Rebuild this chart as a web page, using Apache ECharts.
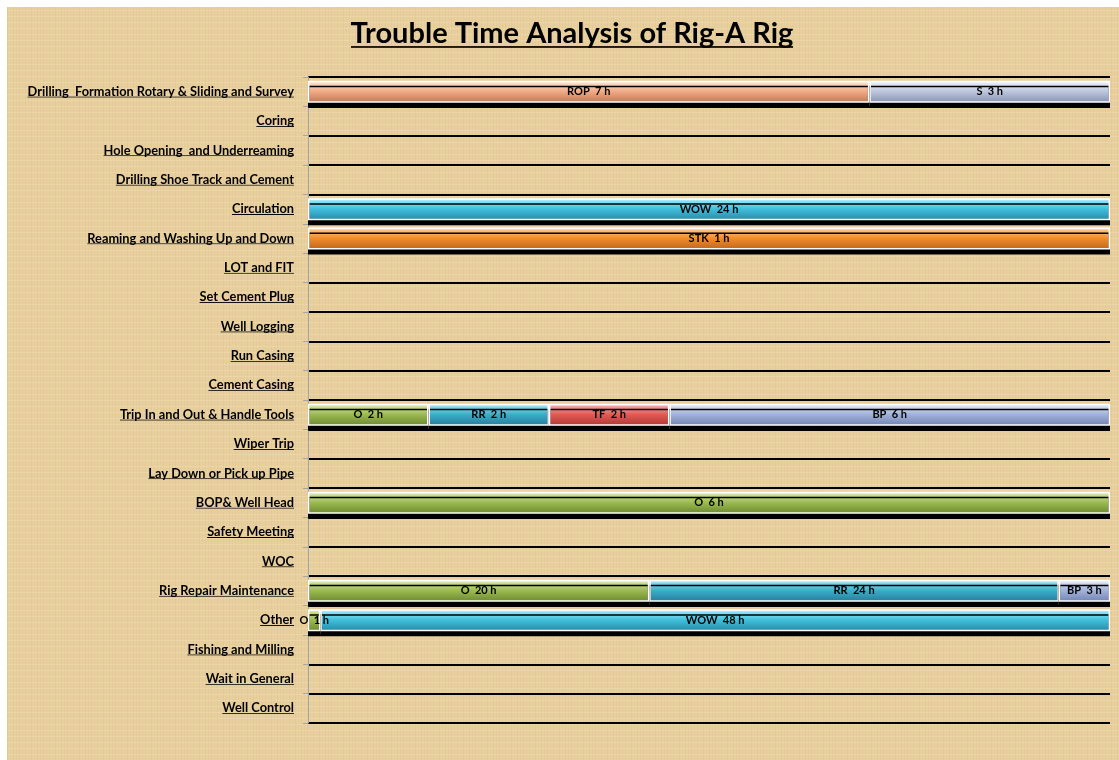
<!DOCTYPE html>
<html lang="en">

<head>
    <meta charset="UTF-8">
    <title>Trouble Time Analysis</title>
    <script src="https://cdn.jsdelivr.net/npm/echarts@6/dist/echarts.min.js"></script>
    <style>
        html, body { margin: 0; padding: 0; background: #fff; }
    </style>
</head>

<body>
    <div id="main" style="width: 1119px;height:760px;"></div>

    <script type="text/javascript">
        // rows, top to bottom
        var categories = [
            'Drilling  Formation Rotary & Sliding and Survey', 'Coring', 'Hole Opening  and Underreaming',
            'Drilling Shoe Track and Cement', 'Circulation', 'Reaming and Washing Up and Down', 'LOT and FIT',
            'Set Cement Plug', 'Well Logging', 'Run Casing', 'Cement Casing', 'Trip In and Out & Handle Tools',
            'Wiper Trip', 'Lay Down or Pick up Pipe', 'BOP& Well Head', 'Safety Meeting', 'WOC',
            'Rig Repair Maintenance', 'Other', 'Fishing and Milling', 'Wait in General', 'Well Control'
        ];

        // hours per series and row (null = nothing)
        var oHours   = [null, null, null, null, null, null, null, null, null, null, null, 1.75, null, null, 6, null, null, 20, 0.75, null, null, null];
        var rrHours  = [null, null, null, null, null, null, null, null, null, null, null, 1.75, null, null, null, null, null, 24, null, null, null, null];
        var tfHours  = [null, null, null, null, null, null, null, null, null, null, null, 1.75, null, null, null, null, null, null, null, null, null, null];
        var bpHours  = [null, null, null, null, null, null, null, null, null, null, null, 6.4, null, null, null, null, null, 3, null, null, null, null];
        var ropHours = [7, null, null, null, null, null, null, null, null, null, null, null, null, null, null, null, null, null, null, null, null, null];
        var sHours   = [3, null, null, null, null, null, null, null, null, null, null, null, null, null, null, null, null, null, null, null, null, null];
        var wowHours = [null, null, null, null, 24, null, null, null, null, null, null, null, null, null, null, null, null, null, 48, null, null, null];
        var stkHours = [null, null, null, null, null, 1, null, null, null, null, null, null, null, null, null, null, null, null, null, null, null, null];

        var seriesNames = ['O', 'RR', 'TF', 'BP', 'ROP', 'S', 'WOW', 'STK'];
        var seriesHours = [oHours, rrHours, tfHours, bpHours, ropHours, sHours, wowHours, stkHours];
        // [light, mid, dark]
        var seriesColors = [
            ['#c9df8e', '#9aba4e', '#6c8831'],
            ['#84d9ec', '#3aaccb', '#277c95'],
            ['#f39a96', '#e05a55', '#b13632'],
            ['#d3dcf1', '#9fb1d9', '#7283b2'],
            ['#fcd6bc', '#f0a984', '#bf7855'],
            ['#e2e7f2', '#bcc5db', '#8793b2'],
            ['#86e3f6', '#3fbfdc', '#2a87a3'],
            ['#fdbd73', '#f08b2e', '#c0651a']
        ];

        // row totals for the 100% stack
        var rowTotals = categories.map(function (c, i) {
            var t = 0;
            seriesHours.forEach(function (arr) { if (arr[i] != null) t += arr[i]; });
            return t;
        });

        // underline image used behind rich text
        function underline(h, row, thick) {
            var c = document.createElement('canvas');
            c.width = 4;
            c.height = h;
            var ctx = c.getContext('2d');
            ctx.fillStyle = '#000';
            ctx.fillRect(0, row, 4, thick);
            return c;
        }

        // papyrus-like background tile
        function paperTile() {
            var c = document.createElement('canvas');
            c.width = 6;
            c.height = 6;
            var ctx = c.getContext('2d');
            ctx.fillStyle = '#e8d09e';
            ctx.fillRect(0, 0, 6, 6);
            ctx.fillStyle = 'rgba(200,170,115,0.18)';
            ctx.fillRect(0, 0, 1, 6);
            ctx.fillStyle = 'rgba(248,232,196,0.3)';
            ctx.fillRect(0, 3, 6, 1);
            ctx.fillStyle = 'rgba(210,182,130,0.12)';
            ctx.fillRect(3, 0, 1, 6);
            return c;
        }

        function glossy(cols) {
            return new echarts.graphic.LinearGradient(0, 0, 0, 1, [
                { offset: 0, color: '#ffffff' },
                { offset: 0.14, color: cols[0] },
                { offset: 0.5, color: cols[1] },
                { offset: 1, color: cols[2] }
            ]);
        }

        var chart = echarts.init(document.getElementById('main'));

        var series = seriesNames.map(function (name, k) {
            var hrs = seriesHours[k];
            return {
                name: name,
                type: 'bar',
                stack: 'total',
                barWidth: 22,
                data: hrs.map(function (h, i) {
                    return h == null ? null : h / rowTotals[i] * 100;
                }),
                itemStyle: {
                    color: glossy(seriesColors[k]),
                    borderColor: '#fff',
                    borderWidth: 1.5,
                    shadowColor: '#000',
                    shadowOffsetY: 5,
                    shadowBlur: 0
                },
                label: {
                    show: true,
                    position: 'inside',
                    color: '#000',
                    fontFamily: 'Lato',
                    fontWeight: 'bold',
                    fontSize: 11,
                    formatter: function (p) {
                        return p.seriesName + '  ' + Math.round(hrs[p.dataIndex]) + ' h';
                    }
                }
            };
        });

        var option = {
            backgroundColor: '#fff',
            animation: false,
            graphic: [{
                type: 'rect',
                left: 7,
                top: 7,
                z: -10,
                silent: true,
                shape: { width: 1112, height: 753 },
                style: { fill: { type: 'pattern', image: paperTile(), repeat: 'repeat' } }
            }],
            title: {
                text: '{t|Trouble Time Analysis of Rig-A Rig}',
                left: 567,
                top: 10,
                textAlign: 'center',
                textStyle: {
                    rich: {
                        t: {
                            fontFamily: 'Lato',
                            fontWeight: 'bold',
                            fontSize: 29,
                            color: '#000',
                            lineHeight: 38,
                            backgroundColor: { image: underline(38, 35, 2) }
                        }
                    }
                }
            },
            grid: {
                left: 308,
                right: 9,
                top: 77,
                bottom: 37,
                containLabel: false
            },
            xAxis: {
                type: 'value',
                min: 0,
                max: 100,
                show: false
            },
            yAxis: {
                type: 'category',
                inverse: true,
                data: categories,
                axisLine: { lineStyle: { color: '#a6a6a6', width: 1 } },
                axisTick: { show: true, length: 5, lineStyle: { color: '#a6a6a6' } },
                splitLine: { show: true, lineStyle: { color: '#000', width: 2 } },
                axisLabel: {
                    margin: 14,
                    formatter: function (v) { return '{u|' + v + '}'; },
                    rich: {
                        u: {
                            fontFamily: 'Lato',
                            fontWeight: 'bold',
                            fontSize: 12.8,
                            color: '#000',
                            lineHeight: 17,
                            backgroundColor: { image: underline(17, 15, 1) }
                        }
                    }
                }
            },
            series: series
        };

        chart.setOption(option);
    </script>
</body>

</html>
